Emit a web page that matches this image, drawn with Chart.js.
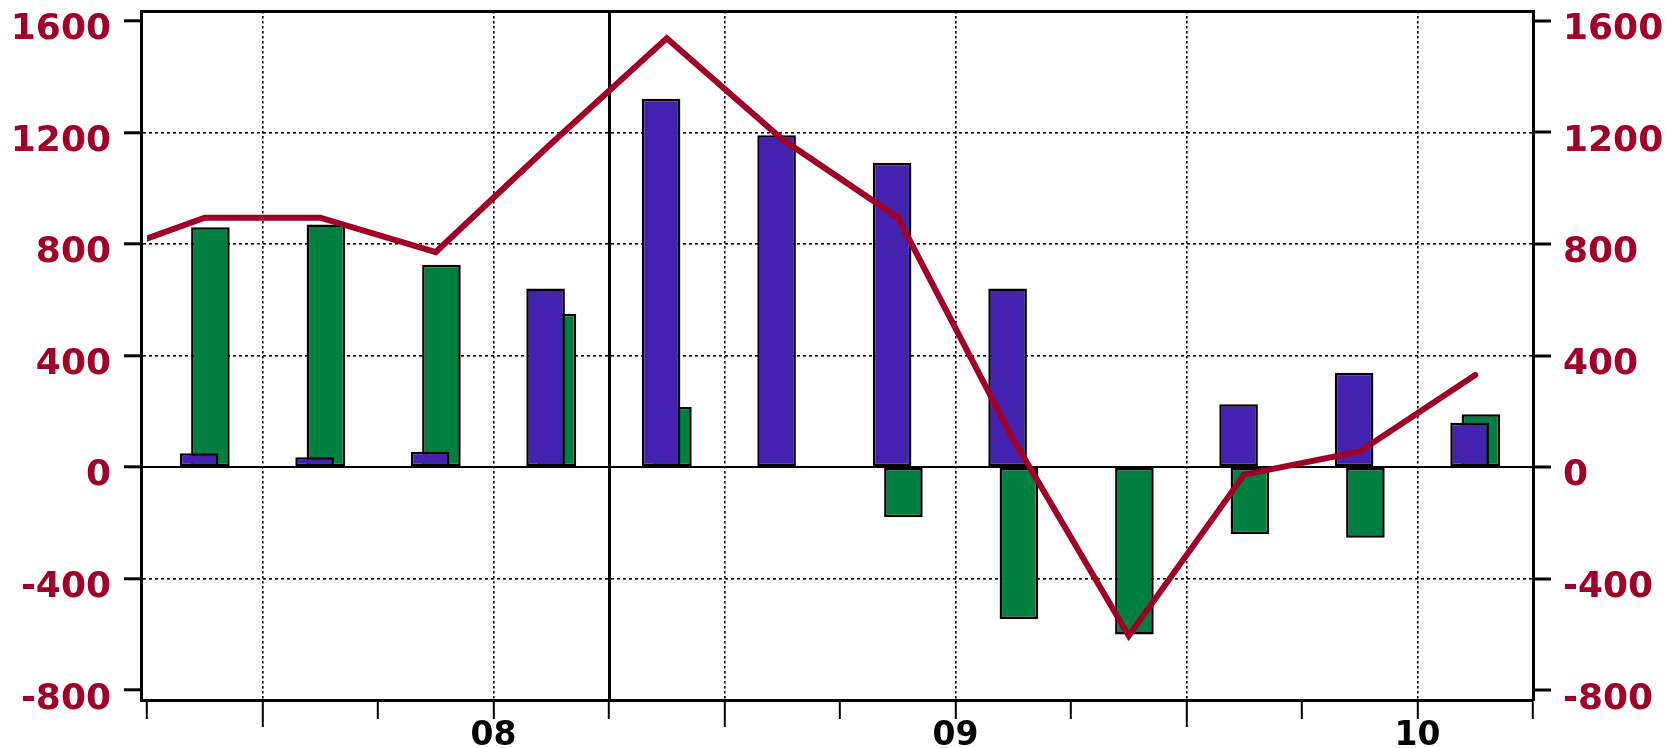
<!DOCTYPE html>
<html>
<head>
<meta charset="utf-8">
<script src="https://cdn.jsdelivr.net/npm/chart.js@4.4.1/dist/chart.umd.min.js"></script>
<style>
  html, body { margin: 0; padding: 0; background: #fff; }
  canvas { display: block; }
</style>
</head>
<body>
<canvas id="chart" width="1673" height="748"></canvas>
<script>
"use strict";

// ========== DATA ========== //
// 2007Q3 is only there so the line comes in from the left edge
const quarters = ['2007Q3', '2007Q4',
    '2008Q1', '2008Q2', '2008Q3', '2008Q4',
    '2009Q1', '2009Q2', '2009Q3', '2009Q4',
    '2010Q1', '2010Q2', '2010Q3'];
const barQuarters = quarters.slice(1);

const purpleValues = [50, 35, 55, 640, 1320, 1190, 1090, 640, 0, 225, 338, 159];
const greenValues = [860, 870, 725, 550, 215, 5, -180, -545, -600, -240, -253, 189];
const lineValues = [745, 894, 894, 771, 1160, 1537, 1175, 895, 100, -605, -27, 56, 330];

// quarter boundaries on the x axis, year labels sit mid-year
const xTickValues = [0, 1, 2, 3, 4, 5, 6, 7, 8, 9, 10, 11, 12];
const xTickLabels = ['', '', '', '08', '', '', '', '09', '', '', '', '10', ''];
const yearStartTicks = [1, 5, 9];
const xDottedTicks = [1, 3, 5, 7, 9, 11];
const markerTick = 4;

const yTickValues = [1600, 1200, 800, 400, 0, -400, -800];
const yDottedTicks = [1200, 800, 400, -400];

// ========== STYLE ========== //
const RED = '#A00028';
const PURPLE = '#4322B0';
const GREEN = '#008040';
const CLEAR = 'rgba(0,0,0,0)';
const X_MIN = -0.052, X_MAX = 12;
const Y_MIN = -835, Y_MAX = 1635;

function quarterPos(q) {
    return quarters.indexOf(q) - 0.5;
}

const purpleData = barQuarters.map((q, i) => ({ x: quarterPos(q), y: purpleValues[i] }));
const greenData = barQuarters.map((q, i) => ({ x: quarterPos(q), y: greenValues[i] }));
const lineData = quarters.map((q, i) => ({ x: quarterPos(q), y: lineValues[i] }));

function setTicks(values) {
    return scale => {
        scale.ticks = values.map(v => ({ value: v }));
    };
}

// tick value from a scriptable context (undefined at scale level)
function tickVal(c) {
    return c.tick ? c.tick.value : undefined;
}

// fixed axis sizes, and no extra room for overhanging labels
function fixWidth(w) {
    return s => {
        s.width = w;
        s.paddingTop = 0;
        s.paddingBottom = 0;
    };
}
function fixHeight(h) {
    return s => {
        s.height = h;
        s.paddingLeft = 0;
        s.paddingRight = 0;
    };
}

const yFont = { family: 'DejaVu Sans', weight: 'bold', size: 36 };

let chartContainer = document.querySelector('#chart');
let chart = new Chart(chartContainer, {
    type: 'bar',
    data: {
        datasets: [{
            type: 'line',
            data: lineData,
            borderColor: RED,
            borderWidth: 6,
            borderJoinStyle: 'miter',
            borderCapStyle: 'round',
            pointRadius: 0,
            tension: 0,
            order: 0,
            clip: { left: -6, top: 10, right: 10, bottom: 10 }
        }, {
            data: purpleData,
            backgroundColor: PURPLE,
            borderColor: '#000',
            borderWidth: 2.5,
            borderSkipped: false,
            categoryPercentage: 0.196,
            barPercentage: 3.41,
            order: 1
        }, {
            data: greenData,
            backgroundColor: GREEN,
            borderColor: '#000',
            borderWidth: 2.5,
            borderSkipped: false,
            categoryPercentage: 0.196,
            barPercentage: 3.41,
            order: 1
        }]
    },
    options: {
        responsive: false,
        animation: false,
        devicePixelRatio: 1,
        layout: { padding: { top: 11 } },
        plugins: {
            legend: { display: false },
            tooltip: { enabled: false }
        },
        scales: {
            x: {
                type: 'linear',
                position: 'bottom',
                offset: false,
                min: X_MIN,
                max: X_MAX,
                afterBuildTicks: setTicks(xTickValues),
                afterFit: fixHeight(48),
                grid: {
                    offset: false,
                    color: c => xDottedTicks.includes(tickVal(c)) ? '#000' : CLEAR,
                    lineWidth: 1.6,
                    tickColor: '#000',
                    tickWidth: 2,
                    tickLength: 27,
                    tickBorderDash: c => yearStartTicks.includes(tickVal(c)) ? [] : [17, 100]
                },
                border: { display: true, color: '#000', width: 3, dash: [2.5, 2.5] },
                ticks: {
                    autoSkip: false,
                    maxRotation: 0,
                    padding: -10,
                    color: '#000',
                    font: { family: 'DejaVu Sans', weight: 'bold', size: 33 },
                    callback: v => xTickLabels[xTickValues.indexOf(v)] || ''
                }
            },
            // top frame line + solid marker line
            x2: {
                type: 'linear',
                position: 'top',
                offset: false,
                min: X_MIN,
                max: X_MAX,
                afterBuildTicks: setTicks([markerTick]),
                afterFit: fixHeight(0),
                grid: { offset: false, color: '#000', lineWidth: 3, drawTicks: false },
                border: { display: true, color: '#000', width: 3 },
                ticks: { display: false }
            },
            y: {
                position: 'left',
                min: Y_MIN,
                max: Y_MAX,
                afterBuildTicks: setTicks(yTickValues),
                afterFit: fixWidth(141),
                grid: {
                    color: c => yDottedTicks.includes(tickVal(c)) ? '#000' : CLEAR,
                    lineWidth: 1.6,
                    tickColor: '#000',
                    tickWidth: 3,
                    tickLength: 17
                },
                border: { display: true, color: '#000', width: 3, dash: [3, 3] },
                ticks: {
                    padding: 13,
                    labelOffset: 9,
                    color: RED,
                    font: yFont,
                    callback: v => String(v)
                }
            },
            // right axis, also carries the solid zero line
            y2: {
                position: 'right',
                min: Y_MIN,
                max: Y_MAX,
                afterBuildTicks: setTicks(yTickValues),
                afterFit: fixWidth(140),
                grid: {
                    color: c => tickVal(c) === 0 ? '#000' : CLEAR,
                    lineWidth: 2,
                    tickColor: '#000',
                    tickWidth: 3,
                    tickLength: 18
                },
                border: { display: true, color: '#000', width: 3 },
                ticks: {
                    padding: 12,
                    labelOffset: 9,
                    color: RED,
                    font: yFont,
                    callback: v => String(v)
                }
            }
        }
    }
});
</script>
</body>
</html>
